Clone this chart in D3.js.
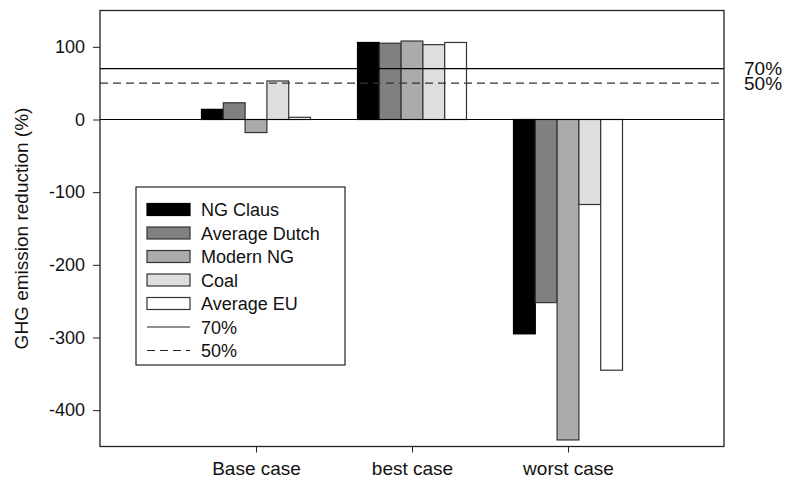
<!DOCTYPE html>
<html><head><meta charset="utf-8">
<script src="https://cdn.jsdelivr.net/npm/d3@7"></script>
<style>body{margin:0;background:#fff}svg{display:block;font-family:"Liberation Sans",Arial,sans-serif}</style>
</head><body><svg id="c" width="794" height="487"></svg>
<script>
const categories = ["Base case", "best case", "worst case"];
const seriesNames = ["NG Claus", "Average Dutch", "Modern NG", "Coal", "Average EU"];
const ngClaus = [14, 106, -295];
const averageDutch = [23, 105, -252];
const modernNG = [-18, 108, -441];
const coal = [53, 103, -117];
const averageEU = [3, 106, -345];
const refLines = [{name: "70%", value: 70, dash: null}, {name: "50%", value: 50, dash: "8,5"}];
const yTicks = [100, 0, -100, -200, -300, -400];
const fills = ["#000000", "#808080", "#ababab", "#dedede", "#ffffff"];
const allSeries = [ngClaus, averageDutch, modernNG, coal, averageEU];

const FONT = "Liberation Sans, Arial, sans-serif";
const svg = d3.select("#c");
const L = 100, R = 724, T = 10.5, B = 446.5;
const y = d3.scaleLinear().domain([-450, 150]).range([B, T]);
const x = d3.scalePoint().domain(categories).range([L, R]).padding(1);
const bw = 21.8;
const inner = d3.scaleBand().domain(seriesNames).range([-bw * 2.5, bw * 2.5]).padding(0);

// bars
categories.forEach((c, ci) => {
  seriesNames.forEach((s, si) => {
    const v = allSeries[si][ci];
    svg.append("rect")
      .attr("x", x(c) + inner(s))
      .attr("width", inner.bandwidth())
      .attr("y", Math.min(y(v), y(0)))
      .attr("height", Math.abs(y(v) - y(0)))
      .attr("fill", fills[si])
      .attr("stroke", si === 0 ? "#000" : "#333")
      .attr("stroke-width", 1.2);
  });
});

// zero line
svg.append("line").attr("x1", L).attr("x2", R).attr("y1", y(0)).attr("y2", y(0)).attr("stroke", "#000").attr("stroke-width", 1.2);

// reference lines
refLines.forEach(r => {
  svg.append("line").attr("x1", L).attr("x2", R).attr("y1", y(r.value)).attr("y2", y(r.value))
    .attr("stroke", r.dash ? "#333" : "#000").attr("stroke-width", 1.2)
    .attr("stroke-dasharray", r.dash);
});
svg.append("text").attr("x", 744).attr("y", 74.5).attr("font-size", 19).attr("fill", "#111").text(refLines[0].name);
svg.append("text").attr("x", 744).attr("y", 89.5).attr("font-size", 19).attr("fill", "#111").text(refLines[1].name);

// frame
svg.append("rect").attr("x", L).attr("y", T).attr("width", R - L).attr("height", B - T)
  .attr("fill", "none").attr("stroke", "#222").attr("stroke-width", 1.3);

// y axis
const yAxis = d3.axisLeft(y).tickValues(yTicks).tickFormat(d => String(d)).tickSize(7).tickPadding(8).tickSizeOuter(0);
const ga = svg.append("g").attr("transform", `translate(${L},0)`).call(yAxis);
ga.select(".domain").remove();
ga.selectAll("text").attr("font-size", 18).attr("fill", "#111").attr("font-family", FONT);
ga.selectAll("line").attr("stroke", "#222");

// x axis
const xAxis = d3.axisBottom(x).tickSize(6).tickPadding(9).tickSizeOuter(0);
const gx = svg.append("g").attr("transform", `translate(0,${B})`).call(xAxis);
gx.select(".domain").remove();
gx.selectAll("text").attr("font-size", 19).attr("fill", "#111").attr("font-family", FONT);
gx.selectAll("line").attr("stroke", "#222");

// y label
svg.append("text").attr("transform", `translate(28,${(T + B) / 2}) rotate(-90)`)
  .attr("text-anchor", "middle").attr("font-size", 19).attr("fill", "#111")
  .text("GHG emission reduction (%)");

// legend
const lg = svg.append("g");
lg.append("rect").attr("x", 136).attr("y", 187).attr("width", 209).attr("height", 178)
  .attr("fill", "#fff").attr("stroke", "#222").attr("stroke-width", 1.2);
const rowY = i => 209.5 + i * 23.5;
seriesNames.forEach((s, i) => {
  lg.append("rect").attr("x", 147).attr("y", rowY(i) - 6).attr("width", 43).attr("height", 12)
    .attr("fill", fills[i]).attr("stroke", i === 0 ? "#000" : "#333").attr("stroke-width", 1.2);
  lg.append("text").attr("x", 201).attr("y", rowY(i) + 6.5).attr("font-size", 18).attr("fill", "#111").text(s);
});
refLines.forEach((r, j) => {
  const i = seriesNames.length + j;
  lg.append("line").attr("x1", 147).attr("x2", 190).attr("y1", rowY(i)).attr("y2", rowY(i))
    .attr("stroke", "#222").attr("stroke-width", 1.2).attr("stroke-dasharray", r.dash);
  lg.append("text").attr("x", 201).attr("y", rowY(i) + 6.5).attr("font-size", 18).attr("fill", "#111").text(r.name);
});
</script></body></html>
